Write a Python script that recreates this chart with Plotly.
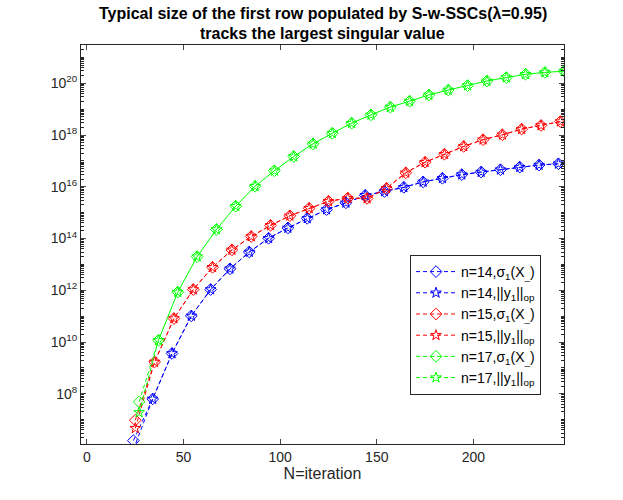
import numpy as np
import plotly.graph_objects as go

# x positions (iteration N) for each n
n14_x = [24, 34, 44, 54, 64, 74, 84, 94, 104, 114, 124, 134, 144, 154, 164, 174, 184, 194, 204, 214, 224, 234, 244]
n15_x = [25, 35, 45, 55, 65, 75, 85, 95, 105, 115, 125, 135, 145, 155, 165, 175, 185, 195, 205, 215, 225, 235, 245]
n17_x = [27, 37, 47, 57, 67, 77, 87, 97, 107, 117, 127, 137, 147, 157, 167, 177, 187, 197, 207, 217, 227, 237, 247]

# values as log10 exponents
n14_sigma_log = [6.19, 7.80, 9.56, 11.01, 12.03, 12.83, 13.48, 14.01, 14.41, 14.78, 15.12, 15.38, 15.67, 15.82,
                 15.98, 16.19, 16.33, 16.47, 16.57, 16.66, 16.76, 16.84, 16.89]
n14_y1_log = [5.85, 7.80, 9.56, 11.01, 12.03, 12.83, 13.48, 14.01, 14.41, 14.78, 15.12, 15.38, 15.67, 15.82,
              15.98, 16.19, 16.33, 16.47, 16.57, 16.66, 16.76, 16.84, 16.89]
n15_sigma_log = [6.98, 9.23, 10.91, 12.03, 12.89, 13.56, 14.08, 14.51, 14.88, 15.17, 15.44, 15.56, 15.55, 15.94,
                 16.54, 16.95, 17.26, 17.56, 17.82, 18.01, 18.23, 18.37, 18.52]
n15_y1_log = [6.67, 9.23, 10.91, 12.03, 12.89, 13.56, 14.08, 14.51, 14.88, 15.17, 15.44, 15.56, 15.55, 15.94,
              16.54, 16.95, 17.26, 17.56, 17.82, 18.01, 18.23, 18.37, 18.52]
n17_sigma_log = [7.69, 10.07, 11.93, 13.30, 14.35, 15.25, 16.02, 16.62, 17.17, 17.66, 18.07, 18.46, 18.78, 19.08,
                 19.31, 19.55, 19.74, 19.91, 20.09, 20.22, 20.35, 20.42, 20.47]
n17_y1_log = [7.28, 10.07, 11.93, 13.30, 14.35, 15.25, 16.02, 16.62, 17.17, 17.66, 18.07, 18.46, 18.78, 19.08,
              19.31, 19.55, 19.74, 19.91, 20.09, 20.22, 20.35, 20.42, 20.47]

labels = ["n=14,σ<sub>1</sub>(X<sub>_</sub>)", "n=14,||y<sub>1</sub>||<sub>op</sub>",
          "n=15,σ<sub>1</sub>(X<sub>_</sub>)", "n=15,||y<sub>1</sub>||<sub>op</sub>",
          "n=17,σ<sub>1</sub>(X<sub>_</sub>)", "n=17,||y<sub>1</sub>||<sub>op</sub>"]

title_lines = ["Typical size of the first row populated by S-w-SSCs(λ=0.95)",
               "tracks the largest singular value"]

ytick_exp = [8, 10, 12, 14, 16, 18, 20]
xtick_vals = [0, 50, 100, 150, 200]

series = [
    (n14_x, n14_sigma_log, "#0000ff", "diamond-open", 9),
    (n14_x, n14_y1_log, "#0000ff", "star-open", 8),
    (n15_x, n15_sigma_log, "#ff0000", "diamond-open", 9),
    (n15_x, n15_y1_log, "#ff0000", "star-open", 8),
    (n17_x, n17_sigma_log, "#00ff00", "diamond-open", 9),
    (n17_x, n17_y1_log, "#00ff00", "star-open", 8),
]

fig = go.Figure()
for (xs, ys, col, sym, sz), lab in zip(series, labels):
    fig.add_trace(go.Scatter(
        x=xs, y=10 ** np.array(ys), mode="lines+markers", name=lab,
        line=dict(color=col, width=1, dash="4px,3px"),
        marker=dict(symbol=sym, size=sz, color=col, line=dict(width=1, color=col)),
    ))

axcol = "#262626"
W, H = 623, 500
L, R, T, B = 81, 59, 45, 56
fig.update_layout(
    template="none",
    width=W, height=H,
    margin=dict(l=L, r=R, t=T, b=B, pad=0, autoexpand=False),
    paper_bgcolor="white", plot_bgcolor="white",
    font=dict(family="Liberation Sans, Arial, sans-serif", color=axcol, size=14),
    showlegend=True,
    legend=dict(x=(410 - L) / (W - L - R), y=1 - (255 - T) / (H - T - B), xanchor="left", yanchor="top",
                bgcolor="white", bordercolor=axcol, borderwidth=1,
                font=dict(size=14, color="black"), itemwidth=40, tracegroupgap=0),
)
ph = H - T - B
for i, line in enumerate(title_lines):
    fig.add_annotation(text="<b>%s</b>" % line, xref="paper", yref="paper",
                       x=0.5, y=1 + (T - (13 + 21 * i)) / ph, xanchor="center", yanchor="middle",
                       showarrow=False, font=dict(size=16, color="black"))

fig.update_xaxes(range=[-3.1, 246.9], tickvals=xtick_vals, ticks="inside", ticklen=5,
                 showline=True, linecolor=axcol, linewidth=1, mirror="ticks", automargin=False,
                 showgrid=False, zeroline=False, tickfont=dict(size=14, color=axcol),
                 title=dict(text="N=iteration", font=dict(size=16, color=axcol), standoff=4))
fig.update_yaxes(type="log", range=[6.06, 21.48],
                 tickvals=[10.0 ** e for e in ytick_exp],
                 ticktext=["10<sup>%d</sup>" % e for e in ytick_exp],
                 ticks="inside", ticklen=5, automargin=False,
                 minor=dict(ticks="inside", ticklen=3, tickcolor=axcol, dtick="D1"),
                 showline=True, linecolor=axcol, linewidth=1, mirror="ticks",
                 showgrid=False, zeroline=False, tickfont=dict(size=14, color=axcol))

fig.write_html("out.html", config={"displayModeBar": False},
               post_script="document.body.style.margin='0';")
